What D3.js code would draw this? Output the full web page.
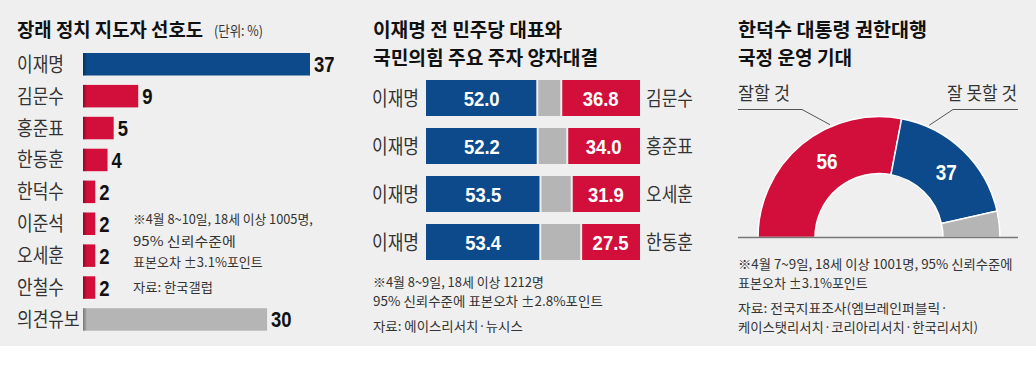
<!DOCTYPE html>
<html><head><meta charset="utf-8">
<script src="https://cdn.jsdelivr.net/npm/d3@7"></script>
<style>
html,body{margin:0;padding:0;background:#fff;}
svg{display:block;}
.kr{font-family:"Noto Sans CJK KR","Noto Sans",sans-serif;}
.num{font-family:"Liberation Sans","Arial",sans-serif;font-weight:bold;}
</style></head>
<body>
<svg id="c" width="1036" height="382"></svg>
<script>
// ---------- data ----------
const prefNames = ["이재명","김문수","홍준표","한동훈","한덕수","이준석","오세훈","안철수","의견유보"];
const prefValues = [37,9,5,4,2,2,2,2,30];
const prefGroups = ["민주","국힘","국힘","국힘","국힘","개혁","국힘","국힘","유보"];
const prefNotes = ["※4월 8~10일, 18세 이상 1005명,","95% 신뢰수준에","표본오차 ±3.1%포인트"];
const prefSource = "자료: 한국갤럽";

const matchLeft = ["이재명","이재명","이재명","이재명"];
const matchRight = ["김문수","홍준표","오세훈","한동훈"];
const leeValues = [52.0,52.2,53.5,53.4];
const oppValues = [36.8,34.0,31.9,27.5];
const matchNotes = ["※4월 8~9일, 18세 이상 1212명","95% 신뢰수준에 표본오차 ±2.8%포인트"];
const matchSource = "자료: 에이스리서치·뉴시스";

const outlookLabels = ["잘할 것","잘 못할 것","기타"];
const outlookValues = [56,37,7];
const outlookNotes = ["※4월 7~9일, 18세 이상 1001명, 95% 신뢰수준에","표본오차 ±3.1%포인트"];
const outlookSource = ["자료: 전국지표조사(엠브레인퍼블릭·","케이스탯리서치·코리아리서치·한국리서치)"];

// ---------- style ----------
const BLUE = "#0c4a8b", RED = "#d20f3a", GRAY = "#b5b5b5", BG = "#efefef";
const groupColor = {"민주":BLUE,"국힘":RED,"개혁":RED,"유보":GRAY};

const svg = d3.select("#c");
svg.append("rect").attr("x",0).attr("y",0).attr("width",1036).attr("height",346).attr("fill",BG);

const defs = svg.append("defs");
const lg = defs.append("linearGradient").attr("id","shade").attr("x1","0").attr("x2","1").attr("y1","0").attr("y2","0");
lg.append("stop").attr("offset","0").attr("stop-color","#000").attr("stop-opacity",0.35);
lg.append("stop").attr("offset","1").attr("stop-color","#000").attr("stop-opacity",0);

// f < 3: horizontal scale factor; f >= 3: target width in px
function text(g, x, y, str, size, weight, cls, f, anchor, fill){
  const t = g.append("text").attr("class",cls).attr("x",0).attr("y",0)
    .attr("transform",`translate(${x},${y})`)
    .attr("font-size",size).attr("font-weight",weight||"normal")
    .attr("text-anchor",anchor||"start").attr("fill",fill||"#333").text(str);
  if (f && f!==1){
    const w = t.node().getComputedTextLength();
    const sx = f >= 3 ? f / w : f;
    t.attr("transform",`translate(${x},${y}) scale(${sx},1)`);
  }
  return t;
}
const NOTE = 13;
const TITLE = 19.3;

// ---------- panel 1 ----------
const p1 = svg.append("g");
text(p1, 17, 37, "장래 정치 지도자 선호도", TITLE, "bold", "kr", 186, "start", "#111");
text(p1, 214, 36, "(단위: %)", 14, "normal", "kr", 49, "start", "#333");

const x1 = d3.scaleLinear().domain([0,37]).range([83,310]);
const y1 = d3.scaleBand().domain(prefNames).range([53, 53+8*31.9+22.5]).paddingInner(0.295).paddingOuter(0);

const rows1 = p1.selectAll("g.r").data(prefNames).enter().append("g").attr("class","r");
rows1.append("rect").attr("x",x1(0)).attr("y",d=>y1(d))
  .attr("width",(d,i)=>x1(prefValues[i])-x1(0)).attr("height",y1.bandwidth())
  .attr("fill",(d,i)=>groupColor[prefGroups[i]]);
rows1.append("rect").attr("x",x1(0)).attr("y",d=>y1(d)).attr("width",4).attr("height",y1.bandwidth()).attr("fill","url(#shade)");
rows1.each(function(d,i){
  const g = d3.select(this);
  const cy = y1(d)+y1.bandwidth()/2;
  text(g, 17, cy+7.5, d, 20, "normal", "kr", 0.85, "start", "#333");
  text(g, x1(prefValues[i])+4, cy+8, prefValues[i], 22, "bold", "num", 0.84, "start", "#111");
});
const prefNoteW = [180,103,130];
prefNotes.forEach((s,i)=>{
  text(p1, 133, [224,246,267][i], s, NOTE, "normal", "kr", prefNoteW[i], "start", "#333");
});
text(p1, 133, 292, prefSource, NOTE, "normal", "kr", 80, "start", "#333");

// ---------- panel 2 ----------
const p2 = svg.append("g");
text(p2, 373, 37, "이재명 전 민주당 대표와", TITLE, "bold", "kr", 189, "start", "#111");
text(p2, 373, 65, "국민의힘 주요 주자 양자대결", TITLE, "bold", "kr", 225, "start", "#111");

const x2 = d3.scaleLinear().domain([0,100]).range([426,640]);
const y2 = d3.scaleBand().domain(d3.range(matchLeft.length)).range([80,260]).paddingInner(0.25).paddingOuter(0);
const gap = 1;
matchLeft.forEach((name,i)=>{
  const g = p2.append("g");
  const y = y2(i), h = y2.bandwidth(), cy = y + h/2;
  const segs = [
    {a:0, b:leeValues[i], c:BLUE, lab:leeValues[i].toFixed(1)},
    {a:leeValues[i], b:100-oppValues[i], c:GRAY, lab:null},
    {a:100-oppValues[i], b:100, c:RED, lab:oppValues[i].toFixed(1)}
  ];
  segs.forEach((s,k)=>{
    const xa = x2(s.a) + (k>0?gap:0), xb = x2(s.b) - (k<2?gap:0);
    g.append("rect").attr("x",xa).attr("y",y).attr("width",xb-xa).attr("height",h).attr("fill",s.c);
    if (s.lab) text(g, (x2(s.a)+x2(s.b))/2, cy+7.5, s.lab, 21, "bold", "num", 0.88, "middle", "#fff");
  });
  text(g, 372, cy+7.5, name, 20, "normal", "kr", 0.85, "start", "#333");
  text(g, 646, cy+7.5, matchRight[i], 20, "normal", "kr", 0.85, "start", "#333");
});
text(p2, 373, 287, matchNotes[0], NOTE, "normal", "kr", 171, "start", "#333");
text(p2, 373, 306, matchNotes[1], NOTE, "normal", "kr", 230, "start", "#333");
text(p2, 373, 331, matchSource, NOTE, "normal", "kr", 150, "start", "#333");

// ---------- panel 3 ----------
const p3 = svg.append("g");
text(p3, 738, 37, "한덕수 대통령 권한대행", TITLE, "bold", "kr", 189, "start", "#111");
text(p3, 738, 65, "국정 운영 기대", TITLE, "bold", "kr", 114, "start", "#111");

const cx = 879, cyD = 237.5, rO = 121, rI = 64;
const pie = d3.pie().sort(null).startAngle(-Math.PI/2).endAngle(Math.PI/2);
const arc = d3.arc().innerRadius(rI).outerRadius(rO);
const arcs = pie(outlookValues);
const donut = p3.append("g").attr("transform",`translate(${cx},${cyD})`);
const outlookColors = [RED, BLUE, GRAY];
donut.selectAll("path").data(arcs).enter().append("path")
  .attr("d",arc).attr("fill",(d,i)=>outlookColors[i]).attr("stroke","#fff").attr("stroke-width",1.5);
arcs.slice(0,2).forEach((d,i)=>{
  const c = arc.centroid(d);
  const dx = i===0 ? 7 : 3, dy = i===0 ? -5 : 1;
  text(donut, c[0]+dx, c[1]+dy+8, outlookValues[i], 22, "bold", "num", 0.86, "middle", "#fff");
});
p3.append("line").attr("x1",738).attr("x2",1018).attr("y1",cyD).attr("y2",cyD).attr("stroke","#777").attr("stroke-width",1.5);

// callouts
text(p3, 738, 100, outlookLabels[0], 18, "normal", "kr", 52, "start", "#333");
text(p3, 1017, 100, outlookLabels[1], 18, "normal", "kr", 70, "end", "#333");
const lineG = d3.line();
const a0 = arcs[0], a1 = arcs[1];
function edgePoint(angle, r){ return [cx + r*Math.sin(angle), cyD - r*Math.cos(angle)]; }
const e0 = edgePoint(a0.startAngle + (a0.endAngle-a0.startAngle)*0.66, rO+2);
const e1 = edgePoint(a1.startAngle + (a1.endAngle-a1.startAngle)*0.2, rO+2);
p3.append("path").attr("d",lineG([[738,109.5],[802,109.5],e0])).attr("fill","none").attr("stroke","#555").attr("stroke-width",1);
p3.append("path").attr("d",lineG([[1018,109.5],[953,109.5],e1])).attr("fill","none").attr("stroke","#555").attr("stroke-width",1);

text(p3, 738, 269, outlookNotes[0], NOTE, "normal", "kr", 275, "start", "#333");
text(p3, 738, 288, outlookNotes[1], NOTE, "normal", "kr", 130, "start", "#333");
text(p3, 738, 313, outlookSource[0], NOTE, "normal", "kr", 210, "start", "#333");
text(p3, 738, 332, outlookSource[1], NOTE, "normal", "kr", 240, "start", "#333");
</script>
</body></html>
